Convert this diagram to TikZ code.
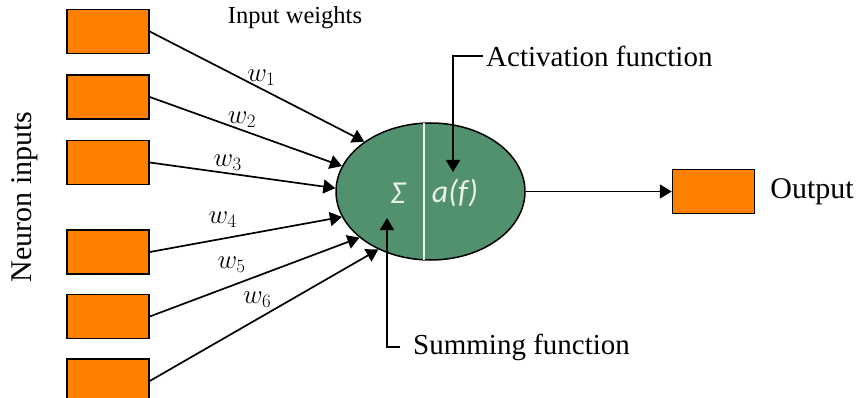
\RequirePackage{fix-cm}
\documentclass[tikz,border=0pt]{standalone}
\usepackage{fontspec}
\setmainfont{Liberation Serif}
\newfontfamily\calibfont{Carlito}
\usepackage{xcolor}
\usepackage{tikz}
\usetikzlibrary{positioning,shapes.geometric,arrows.meta}

\definecolor{inorange}{RGB}{255,128,0}
\definecolor{neurongreen}{RGB}{82,145,110}
\definecolor{fnwhite}{RGB}{232,242,234}

\begin{document}
\begin{tikzpicture}[
  x=1pt, y=-1pt,
  inbox/.style={draw=black, fill=inorange, line width=1.5pt, minimum width=82pt, minimum height=44pt, inner sep=0pt},
  neuron/.style={draw=black, fill=neurongreen, ellipse, line width=1.5pt, minimum width=189pt, minimum height=137pt, inner sep=0pt},
  lbl/.style={inner sep=0pt, font=\fontsize{29}{33}\selectfont},
  wlbl/.style={inner sep=2pt, font=\fontsize{27}{30}\selectfont},
  fnlbl/.style={inner sep=0pt, text=fnwhite, font=\calibfont\itshape\fontsize{32}{36}\selectfont},
  arr/.style={-{Triangle[length=12pt,width=14pt]}, line width=1.7pt},
]
\useasboundingbox (0,0) rectangle (856,398);

% Inputs
\node[inbox] (in1) at (108,31.5) {};
\node[inbox, below=20pt of in1] (in2) {};
\node[inbox, below=20pt of in2] (in3) {};
\node[inbox, below=44pt of in3] (in4) {};
\node[inbox, below=19pt of in4] (in5) {};
\node[inbox, below=19pt of in5] (in6) {};
\node[lbl, rotate=90, font=\fontsize{30}{33}\selectfont] (neurin) at (25,197) {Neuron inputs};
\node[lbl, font=\fontsize{24.5}{28}\selectfont] (inw) at (295,18) {Input weights};

% Neuron
\node[neuron] (ell) at (430.5,191.5) {};
\draw[fnwhite, line width=1.2pt] ([xshift=-6.5pt, yshift=-1pt]ell.north) -- ([xshift=-6.5pt, yshift=1pt]ell.south);
\node[fnlbl] (sig) at (398,193) {Σ};
\node[fnlbl] (act) at (455,193) {a(f)};

% Weighted connections
\draw[arr] (in1.east) -- node[wlbl, above, pos=.52]{$w_1$} (ell.143);
\draw[arr] (in2.east) -- node[wlbl, above, pos=.48]{$w_2$} (ell.164);
\draw[arr] (in3.east) -- node[wlbl, above, pos=.42]{$w_3$} (ell.178.5);
\draw[arr] (in4.east) -- node[wlbl, above=8pt, pos=.38]{$w_4$} (ell.196);
\draw[arr] (in5.east) -- node[wlbl, above=10pt, pos=.39]{$w_5$} (ell.213.5);
\draw[arr] (in6.east) -- node[wlbl, above=9pt, pos=.47]{$w_6$} (ell.228);

% Output
\node[inbox, right=146pt of ell] (out) {};
\draw[arr] (ell.east) -- (out.west);
\node[lbl, font=\fontsize{30}{33}\selectfont, right=15pt of out] (outlbl) {Output};

% Callouts
\node[lbl, anchor=west] (actlbl) at (486,56) {Activation function};
\coordinate (atip) at (453,172);
\draw[arr] ([xshift=-3pt]actlbl.west) -| (atip);

\node[lbl, anchor=west] (sumlbl) at (413,347) {Summing function};
\coordinate (stip) at (387,218);
\draw[arr] ([xshift=-13pt]sumlbl.west) -| (stip);
\end{tikzpicture}
\end{document}
